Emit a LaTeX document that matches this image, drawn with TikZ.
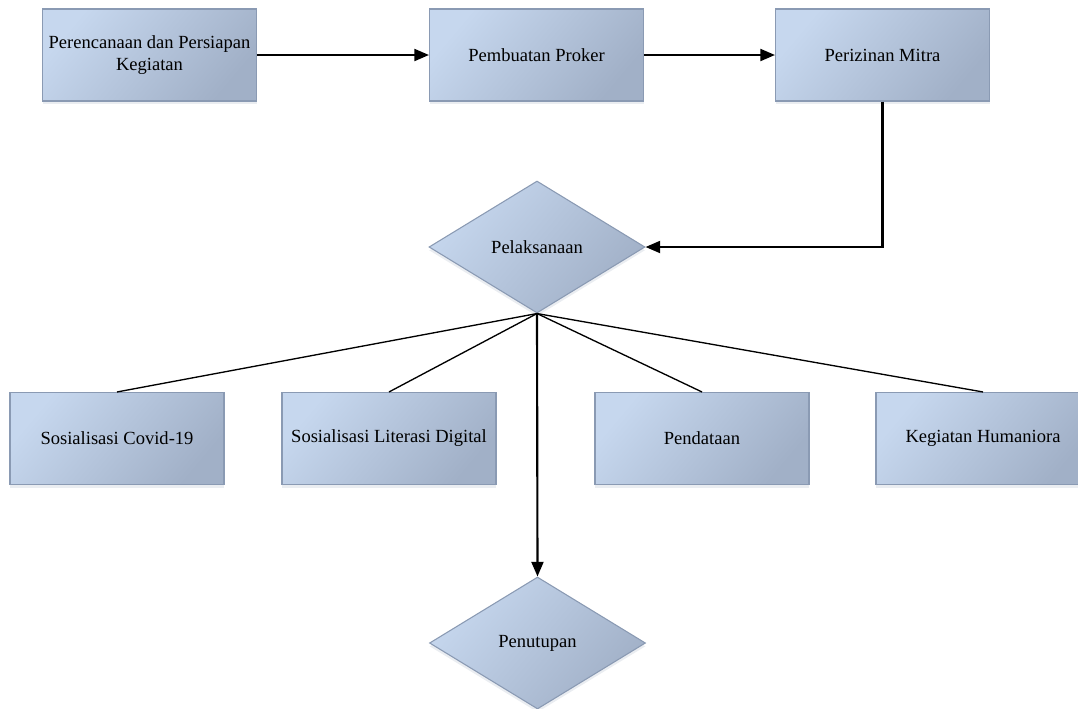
\documentclass[tikz,border=0pt]{standalone}
\usepackage{fontspec}
\setmainfont{Liberation Serif}
\usetikzlibrary{shapes.geometric,arrows.meta,shadows}
\definecolor{boxlight}{HTML}{C6D7EE}
\definecolor{boxdark}{HTML}{A1B0C7}
\definecolor{boxedge}{HTML}{8A9AB3}
\tikzset{
  shapefill/.style={draw=boxedge, line width=0.8pt, top color=boxlight, bottom color=boxdark, shading angle=50,
    drop shadow={shadow xshift=0pt, shadow yshift=-2.5pt, fill=boxedge, opacity=0.18},
    font=\fontsize{13.9pt}{16.5pt}\selectfont, align=center, inner sep=0pt},
  procbox/.style={shapefill, rectangle, minimum width=160.5pt, minimum height=69pt},
  decbox/.style={shapefill, diamond, aspect=1.64, minimum width=162pt, minimum height=99pt},
  flowarrow/.style={line width=1.6pt, -{Triangle[length=11pt,width=9pt]}},
  fanline/.style={line width=1pt}
}
\begin{document}
\begin{tikzpicture}[x=0.75pt,y=-0.75pt]
\useasboundingbox (0,0) rectangle (1078,708);
\clip (0,0) rectangle (1078,708);
\node[procbox] (b1) at (149.5,55) {Perencanaan dan Persiapan\\Kegiatan};
\node[procbox] (b2) at (536.5,55) {Pembuatan Proker};
\node[procbox] (b3) at (882.5,55) {Perizinan Mitra};
\node[decbox] (d1) at (537,247) {Pelaksanaan};
\node[procbox] (s1) at (117,438.5) {Sosialisasi Covid-19};
\node[procbox] (s2) at (389,438.5) {Sosialisasi Literasi Digital};
\node[procbox] (s3) at (702,438.5) {Pendataan};
\node[procbox] (s4) at (983,438.5) {Kegiatan Humaniora};
\node[decbox] (d2) at (537.5,643) {Penutupan};
\draw[flowarrow] (b1.east) -- (b2.west);
\draw[flowarrow] (b2.east) -- (b3.west);
\draw[flowarrow] (b3.south) |- (d1.east);
\draw[fanline] (d1.south) -- (s1.north);
\draw[fanline] (d1.south) -- (s2.north);
\draw[fanline] (d1.south) -- (s3.north);
\draw[fanline] (d1.south) -- (s4.north);
\draw[flowarrow] (d1.south) -- (d2.north);
\end{tikzpicture}
\end{document}
